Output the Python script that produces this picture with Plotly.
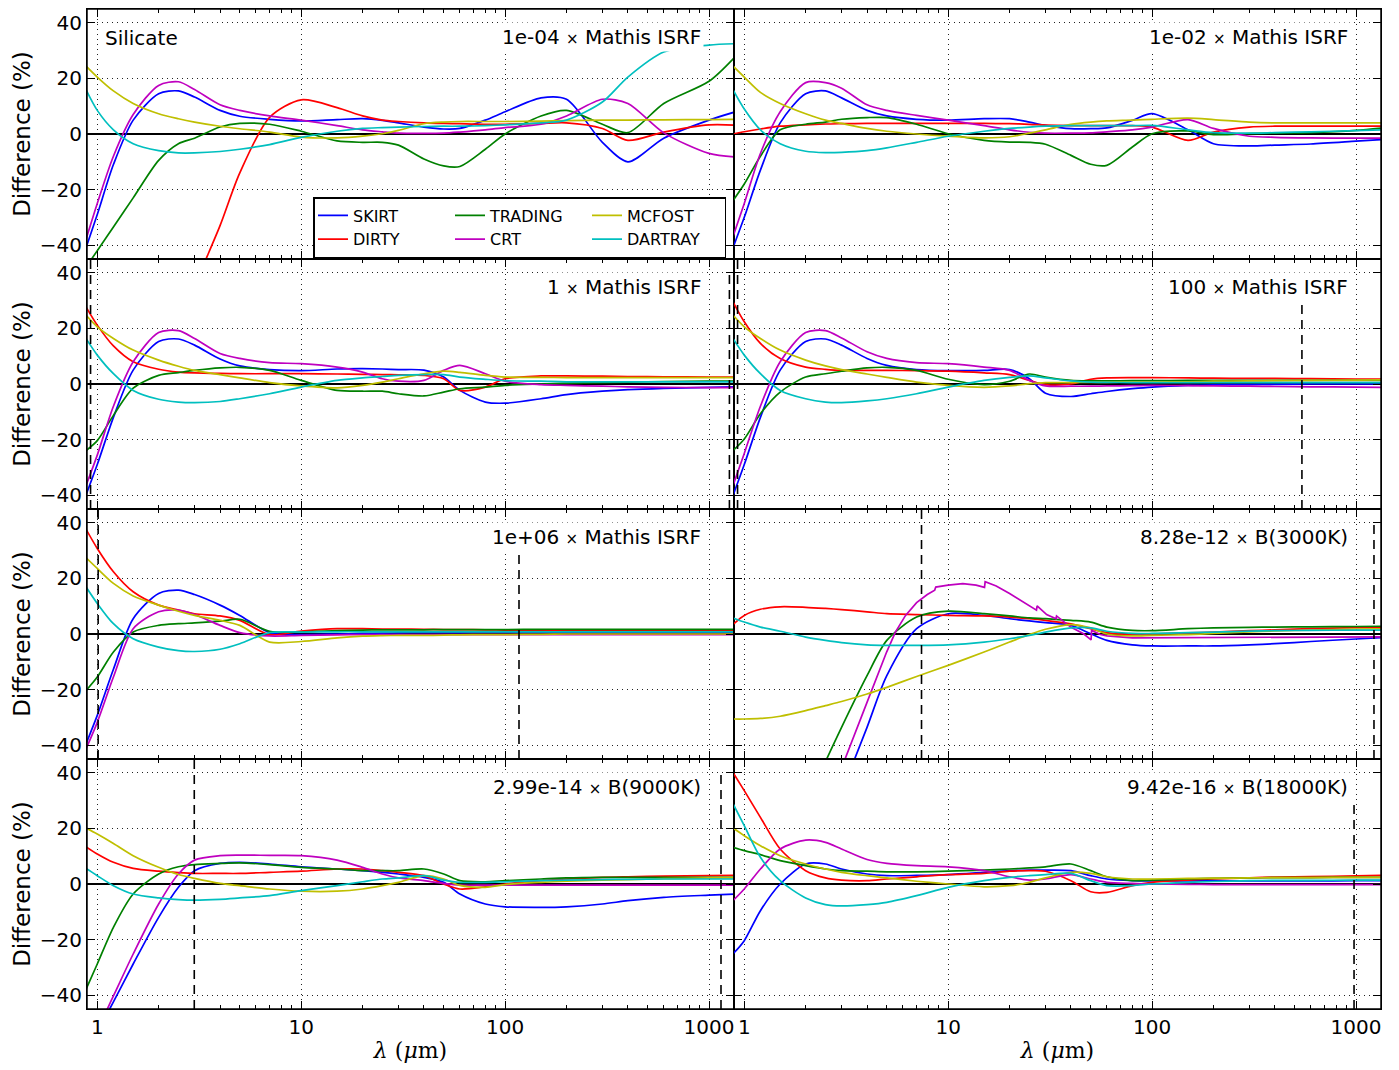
import math
import plotly.graph_objects as go
from plotly.subplots import make_subplots

# ---------------- data ----------------
LAM = [0.88, 1.0, 1.2, 1.5, 2.0, 2.5, 3.0, 4.0, 5.0, 7.0, 10, 15, 20, 25, 30, 40,
       50, 60, 80, 100, 150, 200, 300, 400, 600, 1000, 1350]

CODES = ["SKIRT", "DIRTY", "TRADING", "CRT", "MCFOST", "DARTRAY"]
COLORS = ["#0000ff", "#ff0000", "#008000", "#bf00bf", "#bfbf00", "#00bfbf"]
GROUPS = ["g1", "g1", "g2", "g2", "g3", "g3"]

# Panel 1 : 1e-04 x Mathis ISRF
P1_SKIRT = [-41, -29, -11, 5, 14.5, 15.5, 13.3, 8.5, 6.4, 5.3, 4.7, 5.2, 5.5, 4.9, 4, 2.5, 1.8, 2, 5, 8, 13, 12.5, -3, -10, -1.5, 5, 8]
P1_DIRTY = [None, None, None, None, None, -72, -55, -33, -14, 6, 12.3, 9.5, 6.5, 5, 4.5, 4, 3.8, 3.7, 3.5, 3.5, 3.8, 4, 2, -2.3, 0.7, 3.3, 3.2]
P1_TRADING = [-48, -42, -33.5, -23, -9.5, -3.5, -1.5, 2.5, 3.8, 3.5, 1, -2.5, -3, -3, -4, -9, -11.5, -11.7, -5.5, 0, 6.5, 8.5, 3.5, 0.5, 11, 19, 28]
P1_CRT = [-38, -25, -8, 7, 17.5, 18.8, 16, 10.5, 8.5, 6.5, 5, 3, 1.5, 0.8, 0.3, 0.2, 0.3, 0.7, 1.5, 2.3, 3.5, 6.5, 12.5, 11, 0.4, -7, -8.3]
P1_MCFOST = [24.5, 20.5, 15.5, 11, 7.3, 5.5, 4.3, 2.8, 1.9, 0.7, -1.1, -1.4, -0.8, 0.1, 1.3, 3.7, 4.3, 4.5, 4.5, 4.5, 4.6, 4.8, 5, 5, 5.1, 5.2, 5.3]
P1_DARTRAY = [16, 8.5, 1.5, -3.5, -6, -6.8, -6.8, -6.3, -5.5, -3.8, -1.2, 1, 2, 2.3, 2.5, 2.7, 2.8, 2.8, 3, 3.3, 4, 5, 11.5, 20.5, 29.5, 32, 32.5]

# Panel 2 : 1e-02 x Mathis ISRF
P2_SKIRT = [-41, -30, -13, 4, 14.5, 15.5, 13, 8.5, 6.5, 5.3, 5, 5.5, 5.5, 4.3, 3.1, 1.9, 1.9, 2.2, 4.9, 7.3, 1.5, -3.5, -4.3, -4, -3.6, -2.6, -2]
P2_DIRTY = [0, 0.8, 1.8, 2.8, 3.3, 3.6, 3.7, 3.8, 3.8, 3.8, 3.8, 3.8, 3.7, 3.5, 3.2, 3, 3, 3, 3, 2.5, -2.3, 0.7, 2.5, 2.8, 2.8, 2.8, 2.8]
P2_TRADING = [-24, -18, -8, 1.5, 3.5, 4.3, 5.3, 5.9, 5.9, 3.5, 0.1, -2.3, -2.9, -3, -3.7, -7.7, -10.9, -11.3, -4.7, 0.1, 1.1, -0.2, 0.1, 0.3, 0.5, 1.3, 2.2]
P2_CRT = [-37, -25, -7, 8, 18.5, 18.5, 16.5, 10.5, 8.5, 6.7, 5, 3, 1.5, 0.6, 0.3, 0.3, 0.4, 0.8, 1.5, 2.5, 5.2, 2, -0.8, -1.2, -1.4, -1.5, -1.5]
P2_MCFOST = [24.5, 20.5, 15, 11, 7.3, 5, 3.8, 2, 1, 0, -0.8, -1.4, -1, 0.3, 1.5, 3.5, 4.3, 4.7, 5, 5.3, 5.7, 5.2, 4.3, 4, 4, 4, 4]
P2_DARTRAY = [16, 9, 1.5, -3.5, -6.2, -6.7, -6.6, -6, -5, -3, -0.8, 1, 2, 2.5, 2.8, 3, 3, 3, 3, 3.1, 1.5, 0.5, 0.3, 0.5, 0.8, 1.2, 1.5]

# Panel 3 : 1 x Mathis ISRF
P3_SKIRT = [-40, -29, -12, 5, 15.3, 16.2, 14, 9, 6.5, 5.2, 4.8, 5.4, 5.5, 5.4, 5.2, 5, 2.5, -2.3, -6.5, -6.9, -5.3, -3.8, -2.6, -2, -1.6, -1.2, -1]
P3_DIRTY = [27.8, 21.2, 13.7, 8, 5.3, 4.3, 4, 3.8, 3.7, 3.7, 3.7, 3.6, 3.5, 3.4, 3.3, 3.1, 1.9, -2.3, -1.1, 1.9, 2.9, 2.9, 2.8, 2.7, 2.6, 2.5, 2.5]
P3_TRADING = [-24, -20.4, -11.3, -1.5, 3.1, 4.1, 4.9, 5.8, 6, 4.9, 1.3, -2.3, -2.6, -2.6, -3.5, -4.3, -2.9, -1.7, -1.1, -0.5, 0, 0.3, 0.5, 0.7, 0.9, 1, 1]
P3_CRT = [-36.6, -25.6, -8, 8, 18.5, 19.2, 16.4, 11, 9.2, 7.7, 7.3, 6.1, 4.3, 1.9, 1, 1.3, 4.9, 6.7, 3.7, 1, -0.2, -0.5, -0.8, -1, -1.2, -1.3, -1.3]
P3_MCFOST = [24.8, 20.6, 16.4, 12.2, 8.6, 6.4, 4.9, 3.4, 2.2, 0.5, -0.7, -1.4, -0.5, 0.7, 1.9, 3.7, 4.6, 4.2, 3.1, 2.5, 2.4, 2.3, 2.3, 2.3, 2.3, 2.3, 2.3]
P3_DARTRAY = [16.4, 10.4, 3.7, -2.3, -5.5, -6.5, -6.7, -6.3, -5.3, -3.5, -1.1, 1.3, 2.2, 2.7, 3.1, 3.4, 3.4, 2.5, 1.7, 1.2, 1, 0.8, 0.8, 0.8, 0.8, 0.8, 0.8]

# Panel 4 : 100 x Mathis ISRF
P4_SKIRT = [-40.2, -29, -12, 5, 15.3, 16.2, 14, 9.2, 6.7, 5.2, 4.8, 4.9, 5.2, 1.9, -3.3, -4.5, -3.5, -2.7, -1.7, -1.1, -0.5, -0.3, -0.2, -0.1, 0, 0, 0]
P4_DIRTY = [29.6, 22.4, 14.6, 9.2, 6.1, 5.3, 4.9, 4.9, 4.9, 4.8, 4.6, 4, 3.4, 1.3, -0.2, 0, 1.7, 2.2, 2.3, 2.3, 2.2, 2.1, 2, 2, 1.9, 1.8, 1.8]
P4_TRADING = [-24, -19.8, -10.7, -2.9, 2.5, 3.7, 4.6, 5.8, 6, 4.9, 1.7, -0.2, 1, 3.6, 2.5, 1.3, 1.1, 1.1, 1.2, 1.2, 1.3, 1.3, 1.3, 1.3, 1.3, 1.3, 1.3]
P4_CRT = [-36.6, -25, -8, 8, 18.5, 19.2, 16.6, 11.6, 9.2, 7.7, 7.3, 6.1, 4.9, 1.3, -0.7, -0.8, -0.8, -0.7, -0.6, -0.5, -0.6, -0.7, -0.8, -0.9, -1, -1.1, -1.2]
P4_MCFOST = [24.8, 20.6, 16.4, 12.2, 8.6, 6.5, 5.2, 3.6, 2.4, 0.7, -0.5, -1.2, -0.7, 0.1, 0.5, 0.5, 0.6, 0.6, 0.7, 0.7, 0.8, 1, 1.1, 1.2, 1.3, 1.4, 1.5]
P4_DARTRAY = [16.4, 10.4, 3.7, -2.3, -5.3, -6.5, -6.7, -6.1, -5.3, -3.5, -1.1, 1.3, 2.4, 2.9, 2.2, 1.1, 0.7, 0.6, 0.5, 0.5, 0.5, 0.5, 0.5, 0.5, 0.5, 0.5, 0.5]

# Panel 5 : 1e+06 x Mathis ISRF
P5_SKIRT = [-39.6, -29.3, -12.7, 5.5, 14.6, 15.8, 14.2, 10.4, 6.7, 0.5, -0.2, 0, 0.2, 0.3, 0.4, 0.5, 0.5, 0.5, 0.6, 0.6, 0.6, 0.6, 0.6, 0.6, 0.6, 0.6, 0.6]
P5_DIRTY = [37.8, 30.8, 22.4, 15.2, 10.4, 8.6, 7.3, 6.5, 4.9, -0.2, 1, 1.9, 1.9, 1.8, 1.8, 1.7, 1.6, 1.6, 1.5, 1.4, 1.3, 1.3, 1.2, 1.2, 1.2, 1.2, 1.2]
P5_TRADING = [-20.4, -15.5, -6.5, 0.7, 3.1, 3.7, 4, 4.6, 5.3, 1, 0.7, 1.2, 1.4, 1.5, 1.5, 1.5, 1.6, 1.6, 1.6, 1.6, 1.7, 1.7, 1.7, 1.7, 1.7, 1.7, 1.7]
P5_CRT = [-41.4, -31.8, -15.5, 1.9, 8, 8.6, 7, 3.1, 0.5, -0.7, -0.5, -0.3, -0.2, -0.2, -0.2, -0.2, -0.2, -0.2, -0.2, -0.2, -0.2, -0.2, -0.2, -0.2, -0.2, -0.2, -0.2]
P5_MCFOST = [27.5, 23.6, 18.2, 13.7, 10.4, 8.2, 6.7, 4.9, 3.1, -2.9, -2.7, -1.4, -0.8, -0.6, -0.5, -0.5, -0.4, -0.3, -0.2, -0.2, -0.1, 0, 0, 0, 0, 0, 0]
P5_DARTRAY = [17, 11, 3.7, -1.7, -4.7, -6, -6.3, -5.5, -3.5, 0.5, 0.7, 0.8, 0.8, 0.8, 0.8, 0.8, 0.8, 0.8, 0.8, 0.8, 0.8, 0.8, 0.8, 0.8, 0.8, 0.8, 0.8]

# Panel 6 : 8.28e-12 x B(3000K)
P6_SKIRT = [None, None, None, None, None, None, -57, -33.6, -15, 1.9, 7.3, 6.7, 5.5, 4.7, 4.1, 3.1, 0.1, -2.3, -3.9, -4.3, -4.3, -4.3, -3.9, -3.5, -2.7, -1.8, -1.3]
P6_DIRTY = [3.4, 6.7, 8.9, 9.8, 9.6, 9.2, 8.8, 8, 7.3, 7, 6.7, 6.5, 6.1, 5.5, 4.9, 3.7, 1.9, 0.5, -0.2, 0, 0.4, 0.7, 1.2, 1.5, 1.9, 2.3, 2.4]
P6_TRADING = [None, None, None, None, -62, -46, -33.6, -15, -2.3, 6.1, 8.2, 7.3, 6.5, 5.8, 5.5, 4.9, 4.3, 2.5, 1.3, 1.2, 1.9, 2.2, 2.4, 2.5, 2.6, 2.7, 2.8]
P6_MCFOST = [-30.6, -30.6, -30.4, -29.6, -27.6, -25.8, -24.3, -21.6, -19.2, -15.3, -11.3, -6.5, -2.9, -0.2, 1.7, 3.4, 2.2, 0, -0.7, -0.5, -0.2, 0.2, 0.8, 1.1, 1.4, 1.8, 1.9]
P6_DARTRAY = [5.8, 4.3, 2.5, 1, -1.1, -2.3, -3.1, -3.9, -4.1, -4.1, -3.9, -2.9, -1.7, -0.5, 0.7, 2.2, 2.2, 1, 0.2, 0.2, 0.5, 0.7, 1, 1.2, 1.3, 1.4, 1.4]
# CRT in panel 6 has saw-tooth features: its own wavelength samples
P6_CRT_LAM = [2.95, 3.12, 3.99, 4.99, 5.51, 6.18, 7.0, 7.9, 8.59, 8.69, 10.0, 11.8, 13.7, 15.07, 15.18,
              17.2, 20.0, 23.3, 27.1, 27.3, 30.4, 33.8, 34.0, 39.9, 46.1, 50.2, 50.5, 55.7, 60.1,
              80, 210, 400, 1000, 1350]
P6_CRT = [-50, -45, -24.8, -6.5, 0.7, 6.7, 11.3, 14.2, 15.8, 16.9, 17.6, 18.1, 17.6, 16.8, 18.8,
          17.3, 14.6, 11.6, 8.6, 10.1, 7.0, 5.5, 6.5, 2.5, 0.1, -2.1, 1.3, -0.2, -0.7,
          -1.4, -1.2, -1.1, -1.0, -1.0]

# Panel 7 : 2.99e-14 x B(9000K)
P7_SKIRT = [-60.5, -53.4, -42.4, -28.8, -12, -1.2, 4.8, 7.4, 7.8, 7.2, 6.2, 5.4, 4.8, 4.2, 3.6, 2.4, 0.6, -3.6, -7.2, -8.2, -8.4, -8.2, -7.2, -6, -4.8, -4, -3.6]
P7_DIRTY = [13.4, 10.8, 7.8, 5.6, 4.6, 4.1, 3.8, 3.8, 3.8, 4.2, 4.6, 5.4, 5.4, 4.8, 4.2, 3, 0, -1.8, -1, 0, 1.2, 1.8, 2.4, 2.6, 2.8, 3, 3.1]
P7_TRADING = [-38, -28.8, -15.6, -3.6, 3.6, 6.2, 7, 7.4, 7.6, 7, 6, 5.4, 4.8, 4.8, 4.8, 5.4, 3.6, 1.2, 0.8, 1.2, 1.8, 2.2, 2.4, 2.4, 2.4, 2.4, 2.4]
P7_CRT = [-60.5, -52.6, -40.3, -25.2, -7.2, 3.6, 8.6, 10.2, 10.4, 10.3, 10.2, 8.6, 6, 3.6, 2.2, 1.2, 0.2, -0.4, -0.4, -0.4, -0.4, -0.4, -0.4, -0.4, -0.4, -0.4, -0.4]
P7_MCFOST = [20.2, 18, 14.6, 10.2, 6, 3.4, 2, 0.2, -0.6, -1.8, -2.6, -2.6, -1.8, -0.6, 0.6, 3, 1.8, -0.5, -1.2, -0.2, 0.6, 1, 1.4, 1.6, 1.9, 2.2, 2.3]
P7_DARTRAY = [5.6, 3, -0.6, -3.6, -5, -5.6, -5.8, -5.5, -5, -4.2, -2.4, -0.6, 0.8, 1.8, 2.2, 3, 1.4, 0.6, 0.6, 0.8, 1.2, 1.4, 1.6, 1.7, 1.8, 1.8, 1.8]

# Panel 8 : 9.42e-16 x B(18000K)
P8_SKIRT = [-25.2, -20.4, -9.6, 0, 7.2, 7.2, 5.4, 3.6, 3, 3.1, 3.4, 4.2, 4.8, 5, 5, 4.8, 3, 1.8, 1.2, 1.1, 1.1, 1.1, 1.1, 1.1, 1.1, 1.2, 1.2]
P8_DIRTY = [40.2, 33.6, 24, 12.6, 4.8, 2.2, 1.4, 1.2, 1.8, 2.6, 3.4, 3.8, 4.6, 4.8, 4.6, 1.2, -2.8, -3, -0.6, 0.6, 1.4, 1.8, 2.2, 2.5, 2.7, 2.9, 3.1]
P8_TRADING = [13.2, 12, 10.6, 8.4, 6.6, 5.4, 4.8, 4.6, 4.4, 4.4, 4.6, 5, 5.4, 5.8, 6.2, 7.2, 4.8, 2.6, 1.2, 1.4, 1.8, 2, 2.2, 2.3, 2.3, 2.4, 2.4]
P8_CRT = [-6, -1.8, 5.4, 12.6, 15.8, 15, 12.6, 8.8, 7.4, 6.6, 6.2, 4.8, 2.6, 1.4, 1.8, 3.4, 1.8, 0.6, 0.2, 0, -0.1, -0.2, -0.2, -0.2, -0.2, -0.2, -0.2]
P8_MCFOST = [20.2, 17.4, 13.8, 10.2, 7.2, 5.4, 4.2, 3, 2.2, 1, 0, -1, -0.6, 0.6, 2.2, 4.2, 3.8, 2.6, 1.8, 1.8, 2, 2.1, 2.2, 2.3, 2.3, 2.4, 2.4]
P8_DARTRAY = [29, 21, 9.6, 1.2, -5, -7.4, -7.9, -7.4, -6.6, -4.2, -1.2, 1.2, 2.4, 3, 3.4, 3.8, 1.2, -0.6, -0.6, 0, 0.6, 0.9, 1.2, 1.3, 1.3, 1.4, 1.4]

PANELS = [
    [P1_SKIRT, P1_DIRTY, P1_TRADING, P1_CRT, P1_MCFOST, P1_DARTRAY],
    [P2_SKIRT, P2_DIRTY, P2_TRADING, P2_CRT, P2_MCFOST, P2_DARTRAY],
    [P3_SKIRT, P3_DIRTY, P3_TRADING, P3_CRT, P3_MCFOST, P3_DARTRAY],
    [P4_SKIRT, P4_DIRTY, P4_TRADING, P4_CRT, P4_MCFOST, P4_DARTRAY],
    [P5_SKIRT, P5_DIRTY, P5_TRADING, P5_CRT, P5_MCFOST, P5_DARTRAY],
    [P6_SKIRT, P6_DIRTY, P6_TRADING, P6_CRT, P6_MCFOST, P6_DARTRAY],
    [P7_SKIRT, P7_DIRTY, P7_TRADING, P7_CRT, P7_MCFOST, P7_DARTRAY],
    [P8_SKIRT, P8_DIRTY, P8_TRADING, P8_CRT, P8_MCFOST, P8_DARTRAY],
]

PANEL_LABELS = ["1e-04", "1e-02", "1", "100", "1e+06", "8.28e-12", "2.99e-14", "9.42e-16"]
PANEL_SOURCES = ["Mathis ISRF", "Mathis ISRF", "Mathis ISRF", "Mathis ISRF", "Mathis ISRF",
                 "B(3000K)", "B(9000K)", "B(18000K)"]

# dashed vertical markers per panel: wavelength and upper end (%)
MARK_LAM = [[], [], [0.927, 1259], [0.927, 543], [1.01, 117], [7.4, 1225], [2.99, 1145], [978]]
MARK_TOP = [[], [], [45, 40], [45, 30], [45, 30], [45, 41], [45, 40], [30]]

X_TICKS = [1, 10, 100, 1000]
X_TICKTEXT = ["1", "10", "100", "1000"]
X_MINOR = [m * d for d in (1, 10, 100, 1000) for m in range(2, 10)]
Y_TICKS = [-40, -20, 0, 20, 40]
Y_TICKTEXT = ["\u221240", "\u221220", "0", "20", "40"]

# ---------------- figure ----------------
FONT = "DejaVu Sans"
fig = make_subplots(rows=4, cols=2, horizontal_spacing=0, vertical_spacing=0)

for i, series in enumerate(PANELS):
    r, c = i // 2 + 1, i % 2 + 1
    for k, code in enumerate(CODES):
        x = LAM
        shape = "spline"
        if i == 5 and code == "CRT":
            x = P6_CRT_LAM
            shape = "linear"
        fig.add_trace(go.Scatter(
            x=x, y=series[k], mode="lines", name=code,
            line=dict(color=COLORS[k], width=1.7, shape=shape, smoothing=0.8),
            legendgroup=GROUPS[k], showlegend=(i == 0), hoverinfo="skip"),
            row=r, col=c)
    for xm, ytop in zip(MARK_LAM[i], MARK_TOP[i]):
        fig.add_trace(go.Scatter(
            x=[xm, xm], y=[-45, ytop], mode="lines", showlegend=False, hoverinfo="skip",
            line=dict(color="black", width=1.6, dash="9px,6px")), row=r, col=c)

axis_common = dict(showline=True, linecolor="black", linewidth=1, mirror="ticks",
                   ticks="inside", ticklen=8, tickwidth=1.2, tickcolor="black",
                   showgrid=True, gridcolor="#222222", griddash="1px,4px", gridwidth=1,
                   automargin=False,
                   tickfont=dict(family=FONT, size=20, color="black"))

for i in range(8):
    r, c = i // 2 + 1, i % 2 + 1
    fig.update_xaxes(type="log", range=[math.log10(0.8905), math.log10(1326)],
                     tickmode="array", tickvals=X_TICKS, ticktext=X_TICKTEXT,
                     showticklabels=(r == 4),
                     minor=dict(tickmode="array", tickvals=X_MINOR, ticks="inside", ticklen=4,
                                tickwidth=1, tickcolor="black", showgrid=False),
                     title=dict(text="<i>λ</i> (<i>μ</i>m)" if r == 4 else "",
                                font=dict(family="DejaVu Serif", size=22, color="black"),
                                standoff=4),
                     row=r, col=c, **axis_common)
    fig.update_yaxes(range=[-45, 45], tickmode="array", tickvals=Y_TICKS, ticktext=Y_TICKTEXT,
                     showticklabels=(c == 1),
                     zeroline=True, zerolinecolor="black", zerolinewidth=2,
                     title=dict(text="Difference (%)" if c == 1 else "",
                                font=dict(family=FONT, size=23, color="black"),
                                standoff=2),
                     row=r, col=c, **axis_common)

annotations = []
for i in range(8):
    ax = "" if i == 0 else str(i + 1)
    annotations.append(dict(
        text=PANEL_LABELS[i] + " <span style='font-size:15px'>×</span> " + PANEL_SOURCES[i],
        xref="x" + ax + " domain", yref="y" + ax + " domain",
        x=1 - 30 / 647, y=1 - 28 / 250, xanchor="right", yanchor="middle",
        showarrow=False, bgcolor="white", borderpad=2,
        font=dict(family=FONT, size=20, color="black")))
annotations.append(dict(
    text="Silicate", xref="x domain", yref="y domain", x=16 / 647, y=1 - 29 / 250,
    xanchor="left", yanchor="middle", showarrow=False,
    font=dict(family=FONT, size=20, color="black")))

# page body adds an 8px offset, so the figure is 8px smaller than the window
fig.update_layout(
    width=1391, height=1062,
    margin=dict(l=79, r=18, t=1, b=61, autoexpand=False),
    paper_bgcolor="white", plot_bgcolor="white",
    font=dict(family=FONT, color="black"),
    annotations=annotations,
    shapes=[dict(type="rect", xref="paper", yref="paper", x0=0, x1=1, y0=0, y1=1,
                 line=dict(color="black", width=1.5), layer="above")],
    legend=dict(orientation="h", traceorder="grouped", x=(313 - 87) / 1294, y=1 - (197 - 9) / 1000,
                xanchor="left", yanchor="top", bgcolor="white", bordercolor="black",
                borderwidth=1.5, font=dict(family=FONT, size=16, color="black"),
                entrywidth=92, itemwidth=30),
)

fig.write_html("out.html")
